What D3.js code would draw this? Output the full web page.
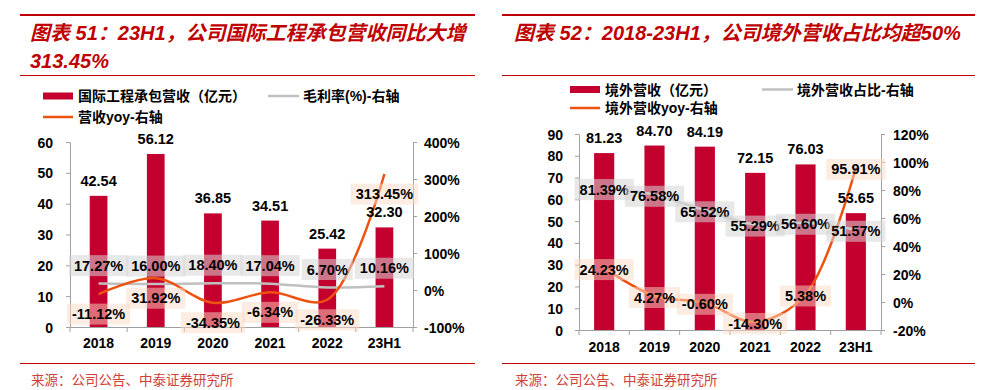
<!DOCTYPE html>
<html>
<head>
<meta charset="utf-8">
<script src="https://cdn.jsdelivr.net/npm/d3@7"></script>
<style>
  html, body { margin: 0; padding: 0; background: #fff; }
  svg { display: block; }
  .num { font-family: "Liberation Sans", Arial, "Noto Sans CJK SC", sans-serif; font-weight: bold; }
  .cjk { font-family: "Liberation Sans", Arial, "Noto Sans CJK SC", sans-serif; font-weight: bold; }
</style>
</head>
<body>
<svg id="chart" width="1000" height="390"></svg>
<script>
// ---------- data ----------
const categories = ["2018", "2019", "2020", "2021", "2022", "23H1"];

// Chart 51
const intlRevenue = [42.54, 56.12, 36.85, 34.51, 25.42, 32.30];
const intlMargin = [17.27, 16.00, 18.40, 17.04, 6.70, 10.16];
const intlYoy = [-11.12, 31.92, -34.35, -6.34, -26.33, 313.45];
const intlLeftTicks = [0, 10, 20, 30, 40, 50, 60];
const intlRightTicks = [-100, 0, 100, 200, 300, 400];
const intlTitle1 = "图表 51：23H1，公司国际工程承包营收同比大增";
const intlTitle2 = "313.45%";
const intlLegend = ["国际工程承包营收（亿元）", "毛利率(%)-右轴", "营收yoy-右轴"];

// Chart 52
const overseasRevenue = [81.23, 84.70, 84.19, 72.15, 76.03, 53.65];
const overseasShare = [81.39, 76.58, 65.52, 55.29, 56.60, 51.57];
const overseasYoy = [24.23, 4.27, -0.60, -14.30, 5.38, 95.91];
const overseasLeftTicks = [0, 10, 20, 30, 40, 50, 60, 70, 80, 90];
const overseasRightTicks = [-20, 0, 20, 40, 60, 80, 100, 120];
const overseasTitle = "图表 52：2018-23H1，公司境外营收占比均超50%";
const overseasLegend = ["境外营收（亿元）", "境外营收占比-右轴", "境外营收yoy-右轴"];

const sourceText = "来源：公司公告、中泰证券研究所";

// ---------- styles ----------
const RED = "#c00000";
const BAR = "#c4002f";
const ORANGE = "#ee5211";
const GRAY_LINE = "#c0c0c0";
const AXIS = "#a0a0a0";
const GRAY_BOX = "rgba(214,214,214,0.55)";
const PEACH_BOX = "rgba(250,218,196,0.5)";

const svg = d3.select("#chart");

function fmtPct(v) { return v.toFixed(2) + "%"; }

function panel(cfg) {
  const g = svg.append("g");

  // frame lines
  g.append("line").attr("x1", cfg.frameX0).attr("x2", cfg.frameX1).attr("y1", 15).attr("y2", 15)
    .attr("stroke", RED).attr("stroke-width", 2);
  g.append("line").attr("x1", cfg.frameX0).attr("x2", cfg.frameX1).attr("y1", 75.5).attr("y2", 75.5)
    .attr("stroke", RED).attr("stroke-width", 1);
  g.append("line").attr("x1", cfg.frameX0).attr("x2", cfg.frameX1).attr("y1", 363.5).attr("y2", 363.5)
    .attr("stroke", RED).attr("stroke-width", 1);

  // title
  cfg.titles.forEach((t, i) => {
    g.append("text").attr("class", "cjk").attr("x", cfg.titleX).attr("y", 33 + i * 28)
      .attr("dominant-baseline", "central").attr("font-size", 20).attr("font-style", "italic")
      .attr("fill", RED).text(t);
  });

  // source
  g.append("text").attr("x", cfg.titleX + 1).attr("y", 379).attr("dominant-baseline", "central")
    .attr("font-family", "'Noto Sans CJK SC', sans-serif").attr("font-size", 13.5)
    .attr("fill", "#d0403a").text(sourceText);

  // legend
  const L = cfg.legend;
  g.append("rect").attr("x", L.x1).attr("y", L.y1 - 3.5).attr("width", 30).attr("height", 7).attr("fill", BAR);
  g.append("text").attr("class", "cjk").attr("x", L.x1 + 35).attr("y", L.y1).attr("dominant-baseline", "central")
    .attr("font-size", 14).attr("fill", "#000").text(cfg.legendText[0]);
  g.append("line").attr("x1", L.x2).attr("x2", L.x2 + 31).attr("y1", L.y1).attr("y2", L.y1)
    .attr("stroke", GRAY_LINE).attr("stroke-width", 2.5);
  g.append("text").attr("class", "cjk").attr("x", L.x2 + 35).attr("y", L.y1).attr("dominant-baseline", "central")
    .attr("font-size", 14).attr("fill", "#000").text(cfg.legendText[1]);
  g.append("line").attr("x1", L.x1).attr("x2", L.x1 + 30).attr("y1", L.y2).attr("y2", L.y2)
    .attr("stroke", ORANGE).attr("stroke-width", 2.5);
  g.append("text").attr("class", "cjk").attr("x", L.x1 + 35).attr("y", L.y2).attr("dominant-baseline", "central")
    .attr("font-size", 14).attr("fill", "#000").text(cfg.legendText[2]);

  // scales
  const pi = cfg.padInner;
  const x = d3.scaleBand().domain(categories).range([cfg.x0, cfg.x1]).paddingInner(pi).paddingOuter(pi / 2);
  const step = x.step();
  const cx = c => x(c) + x.bandwidth() / 2;
  const yL = d3.scaleLinear().domain(d3.extent(cfg.leftTicks)).range([cfg.yBottom, cfg.yTop]);
  const yR = d3.scaleLinear().domain(d3.extent(cfg.rightTicks)).range([cfg.yBottom, cfg.yTop]);

  // axes
  const axL = g.append("g").attr("transform", `translate(${cfg.x0},0)`)
    .call(d3.axisLeft(yL).tickValues(cfg.leftTicks).tickSize(4).tickSizeOuter(0).tickPadding(cfg.padL).tickFormat(d3.format("d")));
  const axR = g.append("g").attr("transform", `translate(${cfg.x1},0)`)
    .call(d3.axisRight(yR).tickValues(cfg.rightTicks).tickSize(4).tickSizeOuter(0).tickPadding(cfg.padR).tickFormat(d => d + "%"));
  [axL, axR].forEach(a => {
    a.selectAll("path,line").attr("stroke", AXIS).attr("stroke-width", 1);
    a.selectAll("text").attr("class", "num").attr("font-size", 14).attr("fill", "#000")
      .attr("dy", null).attr("dominant-baseline", "central");
  });
  const axX = g.append("g").attr("transform", `translate(0,${cfg.yBottom})`)
    .call(d3.axisBottom(x).tickSize(0).tickSizeOuter(0).tickPadding(0));
  axX.select("path").attr("stroke", AXIS);
  axX.selectAll("text").attr("class", "num").attr("font-size", 14).attr("fill", "#000")
    .attr("y", cfg.xLabelDy).attr("dy", null).attr("dominant-baseline", "central");
  // boundary ticks
  const bounds = d3.range(categories.length + 1).map(i => cfg.x0 + i * step);
  g.append("g").selectAll("line").data(bounds).join("line")
    .attr("x1", d => d).attr("x2", d => d).attr("y1", cfg.yBottom).attr("y2", cfg.yBottom + 5)
    .attr("stroke", AXIS);

  // bars
  g.append("g").selectAll("rect").data(cfg.bars).join("rect")
    .attr("x", (d, i) => x(categories[i])).attr("width", x.bandwidth())
    .attr("y", d => yL(d)).attr("height", d => cfg.yBottom - yL(d)).attr("fill", BAR);

  // lines
  const line = d3.line().x((d, i) => cx(categories[i])).y(d => yR(d)).curve(d3.curveCatmullRom.alpha(0.5));
  g.append("path").attr("d", line(cfg.grayLine)).attr("fill", "none").attr("stroke", GRAY_LINE).attr("stroke-width", 2.5);
  g.append("path").attr("d", line(cfg.orangeLine)).attr("fill", "none").attr("stroke", ORANGE).attr("stroke-width", 2.5);

  // bar labels
  g.append("g").selectAll("text").data(cfg.bars).join("text").attr("class", "num")
    .attr("x", (d, i) => cx(categories[i])).attr("y", d => yL(d) - 15)
    .attr("text-anchor", "middle").attr("dominant-baseline", "central").attr("font-size", 14.5)
    .attr("fill", "#000").text(d => d.toFixed(2));

  // boxed labels
  function boxed(values, offset, fill) {
    const lg = g.append("g");
    values.forEach((v, i) => {
      const px = cx(categories[i]);
      const py = yR(v) + offset;
      const box = lg.append("rect").attr("fill", fill);
      const t = lg.append("text").attr("class", "num").attr("x", px).attr("y", py)
        .attr("text-anchor", "middle").attr("dominant-baseline", "central").attr("font-size", 14.5)
        .attr("fill", "#000").text(fmtPct(v));
      const w = t.node().getComputedTextLength() + 10;
      box.attr("x", px - w / 2).attr("y", py - 10.5).attr("width", w).attr("height", 21);
    });
  }
  boxed(cfg.grayLine, cfg.grayOffset, GRAY_BOX);
  boxed(cfg.orangeLine, cfg.orangeOffset, PEACH_BOX);
}

panel({
  frameX0: 20, frameX1: 475, titleX: 30,
  titles: [intlTitle1, intlTitle2],
  legend: { x1: 43, x2: 268, y1: 96, y2: 117 },
  legendText: intlLegend,
  x0: 70, x1: 413, yTop: 142, yBottom: 327, padInner: 0.69,
  padL: 13, padR: 7, xLabelDy: 16,
  leftTicks: intlLeftTicks, rightTicks: intlRightTicks,
  bars: intlRevenue, grayLine: intlMargin, orangeLine: intlYoy,
  grayOffset: -18, orangeOffset: 20
});

panel({
  frameX0: 502, frameX1: 975, titleX: 514,
  titles: [overseasTitle],
  legend: { x1: 570, x2: 762, y1: 89.5, y2: 108 },
  legendText: overseasLegend,
  x0: 579, x1: 881, yTop: 134, yBottom: 330, padInner: 0.6,
  padL: 12, padR: 8, xLabelDy: 17,
  leftTicks: overseasLeftTicks, rightTicks: overseasRightTicks,
  bars: overseasRevenue, grayLine: overseasShare, orangeLine: overseasYoy,
  grayOffset: 1.5, orangeOffset: 1.5
});
</script>
</body>
</html>
